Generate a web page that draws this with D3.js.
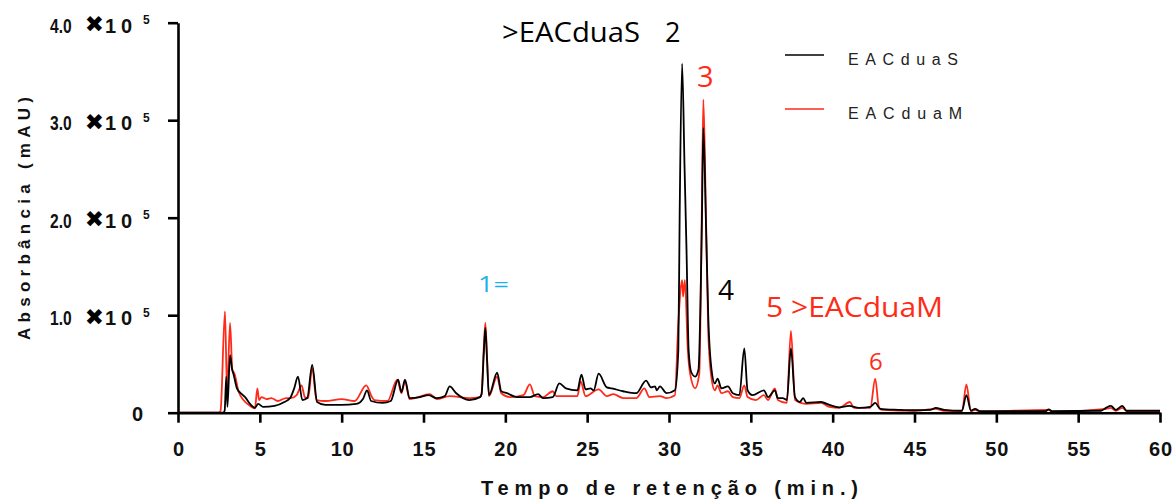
<!DOCTYPE html>
<html><head><meta charset="utf-8">
<script src="https://cdn.jsdelivr.net/npm/d3@7"></script>
<style>body{margin:0;background:#fff} svg{display:block;background:#fff}</style>
</head><body><svg id="c" width="1173" height="501"></svg>
<script>
// ---------------- data ----------------
const xTicks = [0,5,10,15,20,25,30,35,40,45,50,55,60];
const yTicks = [0,100000,200000,300000,400000];
const seriesNames = ["EACduaS","EACduaM"];
const seriesColors = ["#000000","#ff2a1a"];

// [retention time (min), absorbance (mAU)]
const absS = [[0,0],[2.75,0],[2.85,2000],[2.95,37000],[3.02,6000],[3.18,59000],[3.3,45000],[3.4,39000],[3.6,25000],[3.9,19000],[4.1,16000],[4.4,9000],[4.7,5000],[4.9,9000],[5.2,6000],[5.9,7000],[6.5,11000],[6.85,15000],[7.1,25000],[7.33,37000],[7.6,13000],[7.9,15000],[8.2,49000],[8.5,11000],[9.0,8000],[10.0,8000],[10.9,9000],[11.3,14000],[11.55,23000],[11.8,12000],[12.5,10000],[13.0,12000],[13.45,34000],[13.65,21000],[13.87,34000],[14.15,15000],[14.8,16000],[15.3,18000],[15.8,15000],[16.3,17000],[16.6,27000],[17.0,20000],[17.8,13000],[18.45,16000],[18.55,19000],[18.68,60000],[18.78,87000],[18.88,55000],[19.0,18000],[19.5,41000],[19.75,22000],[20.1,20000],[20.7,16000],[21.5,16000],[22.0,19000],[22.3,15000],[22.9,16000],[23.3,30000],[23.7,25000],[24.4,23000],[24.65,39000],[24.9,24000],[25.2,25000],[25.4,23000],[25.7,40000],[26.2,26000],[26.5,25000],[27.2,22000],[28.0,20000],[28.6,33000],[28.9,26000],[29.15,27000],[29.25,23000],[29.45,27000],[29.85,20000],[30.36,23000],[30.57,64000],[30.65,200000],[30.8,358000],[30.95,252000],[31.07,167000],[31.2,64000],[31.35,42000],[31.6,37000],[31.8,44000],[32.0,184000],[32.1,292000],[32.25,200000],[32.4,98000],[32.6,44000],[32.8,30000],[32.97,35000],[33.2,25000],[33.6,27000],[33.9,20000],[34.3,18000],[34.6,66000],[34.8,23000],[35.1,18000],[35.8,23000],[36.05,16000],[36.47,23000],[36.65,15000],[36.95,15000],[37.2,13000],[37.45,66000],[37.7,16000],[38.0,11000],[38.2,15000],[38.4,10000],[39.3,11000],[39.8,8000],[40.4,5500],[41.0,7000],[41.6,5000],[42.3,6000],[42.6,10000],[42.9,4000],[44.0,3000],[45.0,2500],[46.0,3000],[46.3,5000],[46.8,3000],[47.9,2000],[48.17,18000],[48.45,2000],[48.7,4000],[49.0,1500],[53.0,1500],[53.2,3500],[53.4,1500],[56.4,2000],[56.7,5000],[57.0,7000],[57.3,3000],[57.7,7000],[57.95,2000],[60,2000]];

const absM = [[0,0],[2.5,0],[2.6,2000],[2.87,104000],[3.0,20000],[3.18,92000],[3.32,44000],[3.45,40000],[3.7,22000],[4.0,13000],[4.4,7000],[4.7,4500],[4.85,25000],[4.95,13000],[5.1,16000],[5.4,14000],[5.7,15000],[6.1,12000],[6.6,15000],[6.9,15000],[7.25,18000],[7.55,28000],[7.75,16000],[7.95,15000],[8.2,46000],[8.46,13000],[9.0,12000],[10.0,14000],[10.8,12000],[11.5,28000],[11.85,16000],[12.0,13000],[12.8,12000],[13.4,34000],[13.65,20000],[13.87,32000],[14.15,14000],[15.4,19000],[15.8,14000],[16.6,17000],[17.8,15000],[18.45,16000],[18.55,20000],[18.68,65000],[18.78,92000],[18.88,58000],[19.0,17000],[19.5,37000],[19.75,20000],[20.3,16000],[21.1,18000],[21.5,29000],[21.8,17000],[22.3,16000],[22.9,22000],[23.1,17000],[24.4,17000],[24.6,32000],[24.9,17000],[25.7,24000],[26.2,17000],[26.6,19000],[27.2,15000],[28.0,15000],[28.5,25000],[28.8,16000],[29.45,17000],[29.85,15000],[30.36,18000],[30.57,92000],[30.8,136000],[30.86,119000],[30.97,136000],[31.15,64000],[31.3,39000],[31.6,25000],[31.85,40000],[32.0,200000],[32.1,321000],[32.25,210000],[32.4,81000],[32.6,35000],[32.8,23000],[32.97,28000],[33.2,20000],[33.6,22000],[33.9,16000],[34.3,15000],[34.6,28000],[34.8,16000],[35.3,13000],[35.8,18000],[36.05,13000],[36.47,25000],[36.65,13000],[37.2,10000],[37.45,84000],[37.7,13000],[38.4,9000],[39.3,10000],[39.8,6000],[40.4,5000],[41.05,11000],[41.3,5000],[42.3,5000],[42.6,35000],[42.82,6000],[43.0,3000],[45,2000],[46.3,4000],[46.8,2000],[47.9,1500],[48.17,29000],[48.45,1500],[48.7,3000],[49,1000],[53.2,3000],[53.4,1000],[56.7,4000],[57.0,5000],[57.3,2000],[57.7,5000],[58,1500],[60,1500]];

// peak annotations, placed in data units (time, absorbance)
const peakText  = [">EACduaS", "2", "3", "1=", "4", "5 >EACduaM", "6"];
const peakTime  = [19.8, 29.75, 31.71, 18.33, 32.99, 35.93, 42.22];
const peakAbs   = [380000, 380000, 334400, 124100, 116100, 98500, 43800];

// ---------------- drawing ----------------
const svg = d3.select("#c");
const x = d3.scaleLinear().domain([0,60]).range([178,1160]);
const y = d3.scaleLinear().domain([0,400000]).range([412.7,22.7]);
const boldFont = "'Liberation Sans', Arial, sans-serif";
const annFont = "'Open Sans', 'Noto Sans', sans-serif";

const line = d3.line().x(d=>x(d[0])).y(d=>y(d[1])).curve(d3.curveMonotoneX);
const series = [absS, absM];

// red below black
[1,0].forEach(i=>{
  svg.append("path").datum(series[i])
    .attr("d", line).attr("fill","none")
    .attr("stroke", seriesColors[i]).attr("stroke-width", 1.8)
    .attr("stroke-linejoin","round");
});

// x axis
const gx = svg.append("g").attr("transform",`translate(0,${y(0)})`)
  .call(d3.axisBottom(x).tickValues(xTicks).tickSize(10).tickSizeOuter(0).tickFormat(d3.format("d")));
gx.select(".domain").attr("stroke","#000").attr("stroke-width",2.6);
gx.selectAll(".tick line").attr("stroke","#000").attr("stroke-width",2.6);
gx.selectAll(".tick text").attr("y",43).attr("dy",0)
  .attr("font-family",boldFont).attr("font-size",20).attr("font-weight","bold")
  .attr("fill","#111")
  .each(function(d){ if (d >= 10) d3.select(this).attr("textLength",23).attr("lengthAdjust","spacing"); });

// y axis
const gy = svg.append("g").attr("transform",`translate(${x(0)},0)`)
  .call(d3.axisLeft(y).tickValues(yTicks).tickSize(10).tickSizeOuter(0).tickFormat(""));
gy.select(".domain").attr("stroke","#000").attr("stroke-width",2.6);
gy.selectAll(".tick line").attr("stroke","#000").attr("stroke-width",2.6);

const yl = svg.append("g");
yTicks.forEach(v=>{
  const yy = y(v);
  if (v === 0) {
    yl.append("text").attr("x",143).attr("y",yy+8).attr("text-anchor","end")
      .attr("font-family",boldFont).attr("font-size",20).attr("font-weight","bold").attr("fill","#111").text("0");
  } else {
    yl.append("text").attr("transform",`translate(50,${yy+9.8}) scale(0.78,1)`)
      .attr("font-family",boldFont).attr("font-size",20).attr("font-weight","bold").attr("fill","#111")
      .text((v/100000).toFixed(1));
    yl.append("text").attr("x",94.5).attr("y",yy+9.6).attr("text-anchor","middle")
      .attr("font-family","'DejaVu Sans', sans-serif").attr("font-size",23).attr("fill","#000").text("\u2716");
    yl.append("text").attr("x",105).attr("y",yy+9.8)
      .attr("textLength",27).attr("lengthAdjust","spacing")
      .attr("font-family",boldFont).attr("font-size",20).attr("font-weight","bold").attr("fill","#111").text("10");
    yl.append("text").attr("x",143).attr("y",yy+1.5)
      .attr("font-family",boldFont).attr("font-size",12).attr("font-weight","bold").attr("fill","#111").text("5");
  }
});

// axis titles
svg.append("text").attr("transform","translate(30,218.5) rotate(-90)")
  .attr("text-anchor","middle").attr("textLength",243).attr("lengthAdjust","spacing")
  .attr("font-family",boldFont).attr("font-size",17).attr("font-weight","bold").attr("fill","#111")
  .text("Absorbância (mAU)");
svg.append("text").attr("x",669.5).attr("y",495)
  .attr("text-anchor","middle").attr("textLength",377).attr("lengthAdjust","spacing")
  .attr("font-family",boldFont).attr("font-size",20).attr("font-weight","bold").attr("fill","#111")
  .text("Tempo de retenção (min.)");

// legend
const legLen = [110,114];
seriesNames.forEach((n,i)=>{
  svg.append("line").attr("x1",785).attr("x2",824).attr("y1",55+54*i).attr("y2",55+54*i)
    .attr("stroke",seriesColors[i]).attr("stroke-width",1.6);
  svg.append("text").attr("x",848).attr("y",65+54*i)
    .attr("textLength",legLen[i]).attr("lengthAdjust","spacing")
    .attr("font-family","'Liberation Sans', Arial, sans-serif").attr("font-size",16).attr("fill","#222")
    .text(n);
});

// peak annotations
const annColor = ["#000","#000","#ff2b17","#1eb1e8","#000","#ff2b17","#ff2b17"];
const annSize  = [27,27,29,22,28,28,24];
const annLen   = [138,null,null,31,null,177,null];
peakText.forEach((t,i)=>{
  const el = svg.append("text").attr("x",x(peakTime[i])).attr("y",y(peakAbs[i]))
    .attr("font-family",annFont).attr("font-size",annSize[i]).attr("fill",annColor[i]).text(t);
  if (annLen[i]) el.attr("textLength",annLen[i]).attr("lengthAdjust","spacingAndGlyphs");
});
</script></body></html>
